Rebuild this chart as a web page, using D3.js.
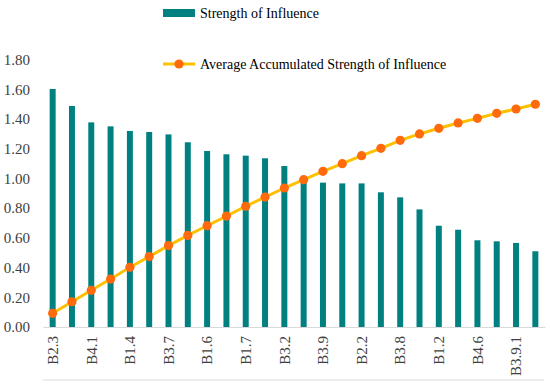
<!DOCTYPE html>
<html><head><meta charset="utf-8">
<script src="https://cdn.jsdelivr.net/npm/d3@7"></script>
<style>html,body{margin:0;padding:0;background:#fff;}svg text{font-family:"Liberation Serif","Times New Roman",Tinos,"DejaVu Serif",serif !important;}</style>
</head><body>
<svg id="c" width="550" height="386"></svg>
<script>
// categories (odd-index labels are hidden in the reference; names there are placeholders)
const categories = ["B2.3","B2.1","B4.1","B4.2","B1.4","B1.3","B3.7","B3.1","B1.6","B1.5","B1.7","B3.4","B3.2","B3.6","B3.9","B2.4","B2.2","B3.5","B3.8","B1.1","B1.2","B4.3","B4.6","B4.5","B3.9.1","B4.4"];
const strength = [1.603,1.488,1.378,1.351,1.320,1.313,1.297,1.244,1.185,1.163,1.154,1.136,1.084,0.99,0.972,0.967,0.967,0.907,0.873,0.792,0.682,0.655,0.584,0.577,0.566,0.510];
const avgAccum = [0.092,0.170,0.247,0.323,0.402,0.474,0.548,0.617,0.682,0.747,0.813,0.875,0.936,0.992,1.048,1.100,1.154,1.203,1.257,1.300,1.338,1.374,1.405,1.439,1.468,1.500];
const yTicks = [0,0.2,0.4,0.6,0.8,1.0,1.2,1.4,1.6,1.8];
const seriesNames = ["Strength of Influence","Average Accumulated Strength of Influence"];

const svg = d3.select("#c");
const x = d3.scaleBand().domain(categories).range([43,545]).paddingInner(0.69).paddingOuter(0.345);
const y = d3.scaleLinear().domain([0,1.8]).range([327,59.7]);

// y tick labels
svg.append("g").selectAll("text").data(yTicks).join("text")
  .attr("x",30).attr("y",d=>y(d)).attr("dy","0.35em").attr("text-anchor","end")
  .attr("font-size",15).attr("fill","#404040").text(d=>d.toFixed(2));

// bars
svg.append("g").selectAll("rect").data(strength).join("rect")
  .attr("x",(d,i)=>x(categories[i])).attr("width",x.bandwidth())
  .attr("y",d=>y(d)).attr("height",d=>y(0)-y(d)).attr("fill","#008080");

// x axis
const xAxis = d3.axisBottom(x).tickSize(0).tickValues(categories.filter((c,i)=>i%2===0));
const gx = svg.append("g").attr("transform",`translate(0,${y(0)})`).call(xAxis);
gx.select(".domain").attr("stroke","#d9d9d9").attr("stroke-width",1);
gx.selectAll("text").attr("font-size",15).attr("fill","#404040")
  .attr("transform","rotate(-90)").attr("text-anchor","end")
  .attr("x",-9).attr("y",0).attr("dy","0.35em");

// bottom frame line
svg.append("line").attr("x1",43).attr("x2",544).attr("y1",380).attr("y2",380).attr("stroke","#e6e6e6").attr("stroke-width",1.5);

// line
const cx = i => x(categories[i]) + x.bandwidth()/2;
svg.append("path").datum(avgAccum)
  .attr("d", d3.line().x((d,i)=>cx(i)).y(d=>y(d)))
  .attr("fill","none").attr("stroke","#FFC000").attr("stroke-width",3);
svg.append("g").selectAll("circle").data(avgAccum).join("circle")
  .attr("cx",(d,i)=>cx(i)).attr("cy",d=>y(d)).attr("r",4.6).attr("fill","#FF6A0D");

// legend
const lg = svg.append("g");
lg.append("rect").attr("x",163).attr("y",9).attr("width",32).attr("height",8).attr("fill","#008080");
lg.append("text").attr("x",200).attr("y",13).attr("dy","0.35em").attr("font-size",14).attr("fill","#000").text(seriesNames[0]);
lg.append("line").attr("x1",163).attr("x2",195).attr("y1",64).attr("y2",64).attr("stroke","#FFC000").attr("stroke-width",3);
lg.append("circle").attr("cx",179).attr("cy",64).attr("r",4.6).attr("fill","#FF6A0D");
lg.append("text").attr("x",200).attr("y",64).attr("dy","0.35em").attr("font-size",14).attr("fill","#000").text(seriesNames[1]);
</script>
</body></html>
